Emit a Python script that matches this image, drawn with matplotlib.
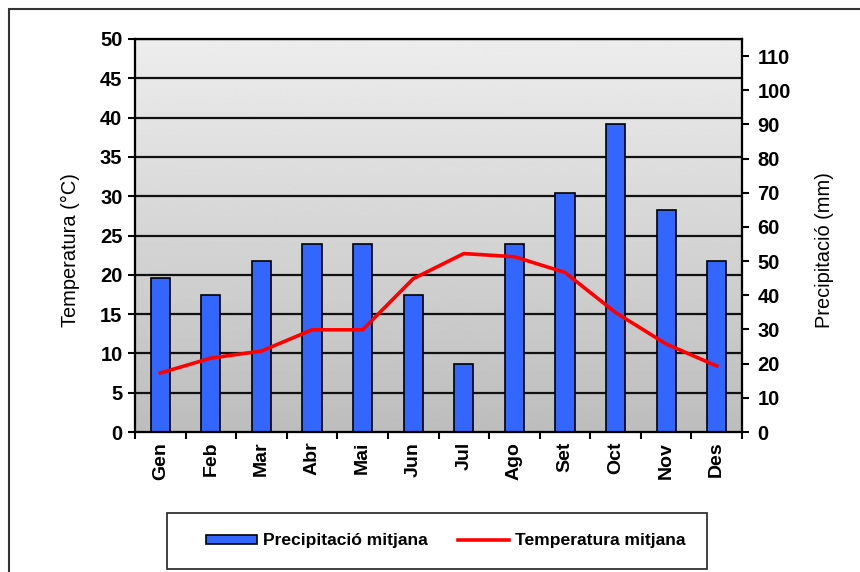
import numpy as np
import matplotlib
matplotlib.use("Agg")
import matplotlib.pyplot as plt
from matplotlib.patches import Rectangle, Patch
from matplotlib.lines import Line2D

months = ["Gen", "Feb", "Mar", "Abr", "Mai", "Jun", "Jul", "Ago", "Set", "Oct", "Nov", "Des"]
precip = [45, 40, 50, 55, 55, 40, 20, 55, 70, 90, 65, 50]
temp = [7.5, 9.4, 10.3, 13.0, 13.0, 19.5, 22.7, 22.3, 20.3, 15.2, 11.2, 8.4]
temp_ticks = list(range(0, 51, 5))
precip_ticks = list(range(0, 111, 10))

plt.rcParams["font.family"] = ["Liberation Sans", "DejaVu Sans"]

fig = plt.figure(figsize=(8.6, 5.72), dpi=100)

# outer frame of the chart
fig.patches.append(Rectangle((9 / 860, -0.1), 1.2, 1 - 9 / 572 + 0.1, transform=fig.transFigure,
                             fill=False, edgecolor="#333333", linewidth=1.5))

ax = fig.add_axes([135 / 860, 1 - 432 / 572, 607 / 860, 393 / 572])
x = np.arange(len(months))

# grey gradient background, light at the top
grad = np.linspace(0.93, 0.74, 256).reshape(-1, 1)
ax.imshow(grad, cmap="gray", vmin=0, vmax=1, aspect="auto", origin="upper",
          extent=(-0.5, len(months) - 0.5, 0, 50), zorder=0)
ax.set_xlim(-0.5, len(months) - 0.5)
ax.set_ylim(0, 50)
ax.set_yticks(temp_ticks)
for t in temp_ticks[1:]:
    ax.axhline(t, color="#111111", linewidth=1.6, zorder=1)

ax.set_xticks(np.arange(len(months) + 1) - 0.5)
ax.set_xticklabels([])
ax.set_xticks(x, minor=True)
ax.set_xticklabels(months, minor=True, rotation=90, fontsize=14, fontweight="bold")
ax.tick_params(axis="x", which="minor", length=0, pad=7)
ax.tick_params(axis="x", which="major", length=5, width=1.5, direction="out")
ax.tick_params(axis="y", length=5, width=1.5, labelsize=14.5, pad=4)
for lab in ax.get_yticklabels():
    lab.set_fontweight("bold")
ax.set_ylabel("Temperatura (°C)", fontsize=14.4)
ax.yaxis.set_label_coords(-0.091, 0.463)

ax2 = ax.twinx()
ax2.bar(x, precip, width=0.38, color="#3366ff", edgecolor="black", linewidth=1.2, zorder=2)
ax2.set_ylim(0, 115)
ax2.set_yticks(precip_ticks)
ax2.tick_params(axis="y", length=5, width=1.5, labelsize=14.5, pad=6)
for lab in ax2.get_yticklabels():
    lab.set_fontweight("bold")
ax2.set_ylabel("Precipitació (mm)", fontsize=14.4)
ax2.yaxis.set_label_coords(1.12, 0.463)

ax3 = ax.twinx()
ax3.plot(x, temp, color="#ff0000", linewidth=2.6, zorder=3)
ax3.set_ylim(0, 50)
ax3.set_yticks([])

for a in (ax, ax2, ax3):
    for s in a.spines.values():
        s.set_linewidth(1.5)
        s.set_color("black")

# legend box
fig.patches.append(Rectangle((167 / 860, 1 - 569 / 572), 540 / 860, 56 / 572, transform=fig.transFigure,
                             fill=False, edgecolor="#333333", linewidth=1.3))
handles = [Patch(facecolor="#3366ff", edgecolor="black", linewidth=1.2),
           Line2D([], [], color="#ff0000", linewidth=2.6)]
fig.legend(handles, ["Precipitació mitjana", "Temperatura mitjana"], loc="center",
           bbox_to_anchor=(446 / 860, 1 - 541 / 572), ncol=2, frameon=False,
           handlelength=2.9, handleheight=0.45, columnspacing=1.75, handletextpad=0.35,
           prop={"size": 12.6, "weight": "bold"})

fig.savefig("out.png", dpi=100)
